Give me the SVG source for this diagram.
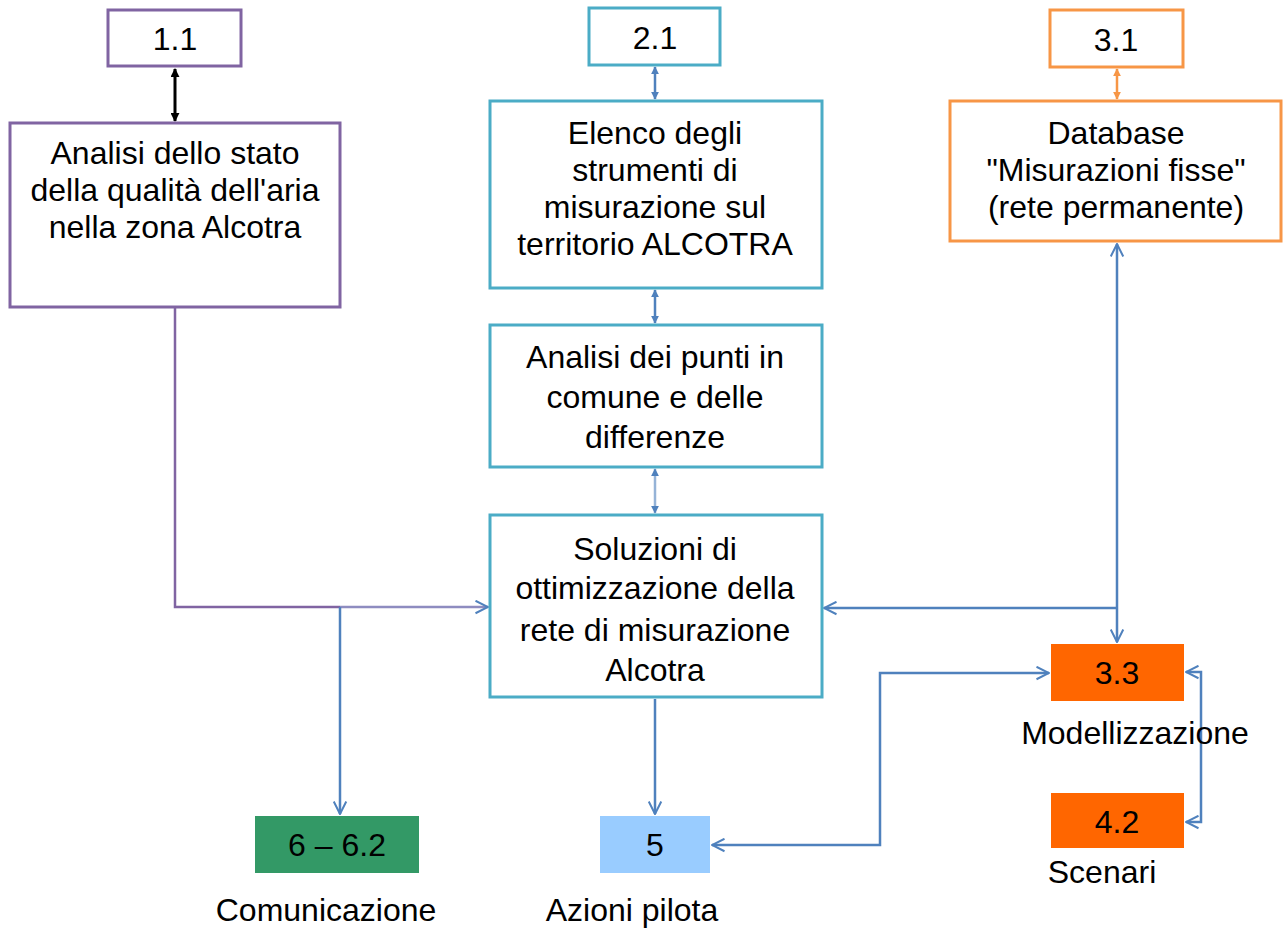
<svg xmlns="http://www.w3.org/2000/svg" width="1284" height="929" viewBox="0 0 1284 929">
<defs>
<style>
text{font-family:"Liberation Sans",Arial,sans-serif;font-size:32px;fill:#000;text-anchor:middle}
.p{fill:#fff;stroke:#8064A2;stroke-width:3}
.c{fill:#fff;stroke:#4BACC6;stroke-width:3}
.o{fill:#fff;stroke:#F79646;stroke-width:3}
.ln{fill:none;stroke:#4F81BD;stroke-width:2.5}
</style>
<marker id="ab" viewBox="0 0 10 10" refX="9" refY="5" markerWidth="8" markerHeight="8" orient="auto-start-reverse" markerUnits="userSpaceOnUse"><path d="M0,0L10,5L0,10z" fill="#4F81BD"/></marker>
<marker id="ak" viewBox="0 0 10 10" refX="9" refY="5" markerWidth="9" markerHeight="9" orient="auto-start-reverse" markerUnits="userSpaceOnUse"><path d="M0,0L10,5L0,10z" fill="#000"/></marker>
<marker id="ao" viewBox="0 0 10 10" refX="9" refY="5" markerWidth="8" markerHeight="8" orient="auto-start-reverse" markerUnits="userSpaceOnUse"><path d="M0,0L10,5L0,10z" fill="#F79646"/></marker>
<marker id="av" viewBox="0 0 12 12" refX="11" refY="6" markerWidth="15" markerHeight="15" orient="auto-start-reverse" markerUnits="userSpaceOnUse"><path d="M1,1L11,6L1,11" fill="none" stroke="#4F81BD" stroke-width="1.6"/></marker>
<marker id="avp" viewBox="0 0 12 12" refX="11" refY="6" markerWidth="15" markerHeight="15" orient="auto" markerUnits="userSpaceOnUse"><path d="M1,1L11,6L1,11" fill="none" stroke="#4F81BD" stroke-width="1.6"/></marker>
</defs>
<g id="connectors">
<line x1="175" y1="69" x2="175" y2="121" stroke="#000" stroke-width="3" marker-start="url(#ak)" marker-end="url(#ak)"/>
<line x1="655" y1="67" x2="655" y2="99" class="ln" marker-start="url(#ab)" marker-end="url(#ab)"/>
<line x1="1117" y1="69" x2="1117" y2="99" stroke="#F79646" stroke-width="2.5" marker-start="url(#ao)" marker-end="url(#ao)"/>
<line x1="655" y1="290" x2="655" y2="323" class="ln" marker-start="url(#ab)" marker-end="url(#ab)"/>
<line x1="655" y1="469" x2="655" y2="513" stroke="#95B3D7" stroke-width="2.5" marker-start="url(#ab)" marker-end="url(#ab)"/>
<polyline points="175,308 175,607 340,607" fill="none" stroke="#8064A2" stroke-width="2.5"/>
<line x1="340" y1="607" x2="488" y2="607" stroke="#8E8CC0" stroke-width="2.5" marker-end="url(#avp)"/>
<line x1="340" y1="607" x2="340" y2="814" class="ln" marker-end="url(#avp)"/>
<line x1="1117" y1="244" x2="1117" y2="642" class="ln" marker-start="url(#av)" marker-end="url(#av)"/>
<line x1="1117" y1="608" x2="824" y2="608" class="ln" marker-end="url(#avp)"/>
<line x1="655" y1="699" x2="655" y2="814" class="ln" marker-end="url(#avp)"/>
<polyline points="712,845 880,845 880,673 1049,673" class="ln" marker-start="url(#av)" marker-end="url(#av)"/>
<polyline points="1186,672 1201,672 1201,822 1186,822" class="ln" marker-start="url(#av)" marker-end="url(#av)"/>
</g>
<g id="n11"><rect class="p" x="108" y="10" width="133" height="56"/><text x="175" y="50">1.1</text></g>
<g id="n21"><rect class="c" x="589" y="8" width="131" height="57"/><text x="655" y="49">2.1</text></g>
<g id="n31"><rect class="o" x="1050" y="10" width="133" height="57"/><text x="1116" y="51">3.1</text></g>
<g id="analisi"><rect class="p" x="10" y="123" width="330" height="184"/>
<text x="175" y="164">Analisi dello stato</text><text x="175" y="201">della qualità dell'aria</text><text x="175" y="238">nella zona Alcotra</text></g>
<g id="elenco"><rect class="c" x="490" y="101" width="332" height="187"/>
<text x="655" y="144">Elenco degli</text><text x="655" y="181">strumenti di</text><text x="655" y="218">misurazione sul</text><text x="655" y="255">territorio ALCOTRA</text></g>
<g id="punti"><rect class="c" x="490" y="325" width="332" height="142"/>
<text x="655" y="368">Analisi dei punti in</text><text x="655" y="408">comune e delle</text><text x="655" y="448">differenze</text></g>
<g id="soluzioni"><rect class="c" x="490" y="515" width="332" height="182"/>
<text x="655" y="560">Soluzioni di</text><text x="655" y="599">ottimizzazione della</text><text x="655" y="641">rete di misurazione</text><text x="655" y="681">Alcotra</text></g>
<g id="database"><rect class="o" x="950" y="101" width="331" height="140"/>
<text x="1116" y="144">Database</text><text x="1116" y="181">"Misurazioni fisse"</text><text x="1116" y="218">(rete permanente)</text></g>
<g id="n33"><rect x="1051" y="644" width="133" height="57" fill="#FF6600"/><text x="1117" y="684">3.3</text>
<text x="1135" y="744">Modellizzazione</text></g>
<g id="n42"><rect x="1051" y="793" width="133" height="55" fill="#FF6600"/><text x="1117" y="833">4.2</text>
<text x="1102" y="883">Scenari</text></g>
<g id="n5"><rect x="600" y="816" width="110" height="57" fill="#99CCFF"/><text x="655" y="856">5</text>
<text x="632" y="921">Azioni pilota</text></g>
<g id="n6"><rect x="255" y="816" width="164" height="57" fill="#339966"/><text x="337" y="856">6 – 6.2</text>
<text x="326" y="921">Comunicazione</text></g>
</svg>
